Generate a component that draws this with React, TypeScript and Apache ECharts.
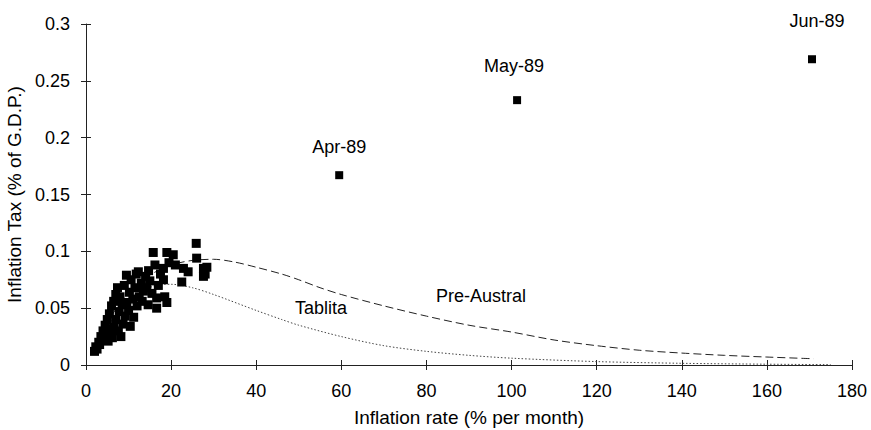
import { useEffect, useRef } from 'react';
import * as echarts from 'echarts';

// Observed monthly points (inflation rate % per month, inflation tax % of GDP)
const observed: [number, number][] = [
  [2.0, 0.012], [2.3, 0.016], [2.6, 0.014], [3.0, 0.020], [3.2, 0.018], [3.5, 0.025],
  [3.8, 0.022], [4.0, 0.030], [4.2, 0.027], [4.5, 0.035], [4.8, 0.032], [5.0, 0.040],
  [5.2, 0.021], [5.5, 0.045], [5.7, 0.028], [6.0, 0.052], [6.2, 0.024], [6.5, 0.056],
  [6.6, 0.033], [7.0, 0.062], [7.0, 0.040], [7.4, 0.068], [7.6, 0.030], [7.8, 0.047],
  [8.0, 0.060], [8.2, 0.025], [8.5, 0.053], [8.7, 0.036], [9.0, 0.070], [9.2, 0.043],
  [9.5, 0.079], [9.6, 0.055], [10.0, 0.048], [10.2, 0.064], [10.4, 0.034], [10.6, 0.075],
  [11.0, 0.058], [11.2, 0.042], [11.5, 0.068], [11.8, 0.080], [12.0, 0.052], [12.3, 0.082],
  [12.5, 0.060], [13.0, 0.072], [13.2, 0.056], [13.5, 0.065], [14.0, 0.078], [14.3, 0.068],
  [14.6, 0.053], [14.7, 0.083], [15.0, 0.074], [15.5, 0.063], [15.8, 0.099], [16.2, 0.088],
  [16.6, 0.059], [16.6, 0.050], [17.0, 0.070], [17.5, 0.080], [18.2, 0.085], [18.2, 0.075],
  [18.5, 0.060], [19.0, 0.099], [19.0, 0.055], [19.5, 0.090], [20.5, 0.097], [21.0, 0.088],
  [22.5, 0.073], [22.9, 0.085], [24.0, 0.082], [25.9, 0.107], [26.0, 0.094], [27.6, 0.085],
  [27.6, 0.078], [28.4, 0.086], [28.0, 0.080],
];

const outlierLabels = ['Apr-89', 'May-89', 'Jun-89'];
const outlierX = [59.5, 101.3, 170.6];
const outlierY = [0.167, 0.233, 0.269];

const preAustralX = [2, 5, 10, 15, 20, 25, 30, 35, 40, 46, 50, 55, 60, 70, 80, 90, 100, 110, 120, 130, 140, 150, 160, 171];
const preAustralY = [0.017, 0.038, 0.063, 0.079, 0.088, 0.092, 0.093, 0.0905, 0.086, 0.080, 0.075, 0.068, 0.062, 0.052, 0.043, 0.035, 0.029, 0.022, 0.017, 0.013, 0.0105, 0.0085, 0.007, 0.0055];

const tablitaX = [2, 5, 10, 15, 18, 20, 25, 30, 40, 46, 50, 60, 70, 80, 90, 100, 120, 140, 160, 175];
const tablitaY = [0.015, 0.034, 0.055, 0.068, 0.071, 0.071, 0.068, 0.062, 0.048, 0.040, 0.035, 0.025, 0.017, 0.012, 0.0085, 0.006, 0.003, 0.0015, 0.0007, 0.0003];

const curveNames = ['Pre-Austral', 'Tablita'];

const FONT = 'Liberation Sans, Arial, sans-serif';

export default function App() {
  const ref = useRef<HTMLDivElement>(null);
  useEffect(() => {
    document.body.style.margin = '0';
    const chart = echarts.init(ref.current!, null, { renderer: 'svg' });
    const labelDist = [15, 21, 25];
    const labelOffset = [[0, 0], [-3, 0], [5, 0]];
    chart.setOption({
      animation: false,
      backgroundColor: '#fff',
      textStyle: { fontFamily: FONT },
      grid: { left: 86, right: 19, top: 24, bottom: 65, containLabel: false, outerBoundsMode: 'none' },
      xAxis: [
        {
          type: 'value', min: 0, max: 180, interval: 20,
          name: 'Inflation rate (% per month)', nameLocation: 'middle', nameGap: 43,
          nameTextStyle: { fontSize: 19, color: '#000', fontFamily: FONT },
          axisLine: { show: true, lineStyle: { color: '#222', width: 1 } },
          axisTick: { show: true, inside: false, length: 5, lineStyle: { color: '#222' } },
          axisLabel: { fontSize: 18, color: '#000', margin: 17, fontFamily: FONT },
          splitLine: { show: false },
        },
        {
          type: 'value', min: 0, max: 180, interval: 20, position: 'bottom',
          axisLine: { show: false },
          axisTick: { show: true, inside: true, length: 5, lineStyle: { color: '#222' } },
          axisLabel: { show: false },
          splitLine: { show: false },
        },
      ],
      yAxis: [
        {
          type: 'value', min: 0, max: 0.3, interval: 0.05,
          name: 'Inflation Tax (% of G.D.P.)', nameLocation: 'middle', nameGap: 59,
          nameTextStyle: { fontSize: 19, color: '#000', fontFamily: FONT },
          axisLine: { show: true, lineStyle: { color: '#222', width: 1 } },
          axisTick: { show: true, inside: false, length: 5, lineStyle: { color: '#222' } },
          axisLabel: { fontSize: 18, color: '#000', margin: 16, fontFamily: FONT },
          splitLine: { show: false },
        },
        {
          type: 'value', min: 0, max: 0.3, interval: 0.05, position: 'left',
          axisLine: { show: false },
          axisTick: { show: true, inside: true, length: 5, lineStyle: { color: '#222' } },
          axisLabel: { show: false },
          splitLine: { show: false },
        },
      ],
      series: [
        {
          name: curveNames[0], type: 'line', smooth: 0.3, showSymbol: false, symbol: 'none',
          data: preAustralX.map((x, i) => [x, preAustralY[i]]),
          lineStyle: { color: '#222', width: 1, type: [8, 4] },
          z: 2,
        },
        {
          name: curveNames[1], type: 'line', smooth: 0.3, showSymbol: false, symbol: 'none',
          data: tablitaX.map((x, i) => [x, tablitaY[i]]),
          lineStyle: { color: '#444', width: 1, type: [1.5, 2] },
          z: 2,
        },
        {
          type: 'scatter', symbol: 'rect', symbolSize: 9,
          itemStyle: { color: '#000', opacity: 1 },
          data: observed,
          z: 3,
        },
        {
          type: 'scatter', symbol: 'rect', symbolSize: 8,
          itemStyle: { color: '#000', opacity: 1 },
          data: outlierX.map((x, i) => ({
            value: [x, outlierY[i]],
            name: outlierLabels[i],
            label: { distance: labelDist[i], offset: labelOffset[i] },
          })),
          label: {
            show: true, position: 'top', formatter: '{b}',
            fontSize: 18, color: '#000', fontFamily: FONT,
          },
          z: 3,
        },
      ],
      graphic: [
        { type: 'text', left: 295, top: 299, style: { text: curveNames[1], fontSize: 18, fill: '#000', fontFamily: FONT } },
        { type: 'text', left: 436, top: 287, style: { text: curveNames[0], fontSize: 18, fill: '#000', fontFamily: FONT } },
      ],
    });
    return () => chart.dispose();
  }, []);
  return <div ref={ref} style={{ width: 871, height: 430 }} />;
}
